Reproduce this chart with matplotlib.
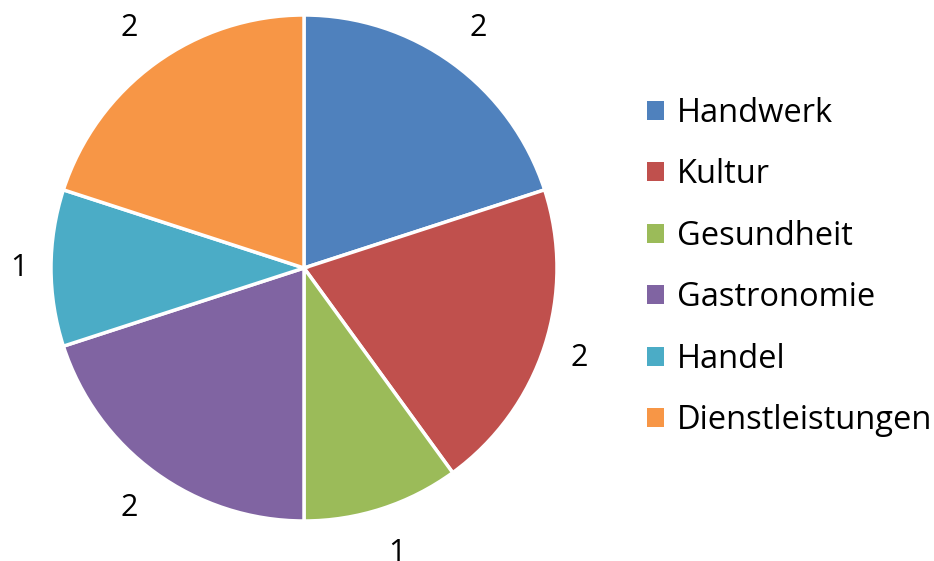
import numpy as np
import matplotlib.pyplot as plt
from matplotlib.patches import Patch

categories = ["Handwerk", "Kultur", "Gesundheit", "Gastronomie", "Handel", "Dienstleistungen"]
values = [2, 2, 1, 2, 1, 2]
colors = ["#4F81BD", "#C0504D", "#9BBB59", "#8064A2", "#4BACC6", "#F79646"]

plt.rcParams['font.family'] = ['Open Sans', 'DejaVu Sans']

fig = plt.figure(figsize=(9.34, 5.61), dpi=100)
# pie centre ~ (304, 268) px, radius ~ 253 px
cx, cy, r = 304, 268, 253
ax = fig.add_axes([(cx - r) / 934, (561 - cy - r) / 561, 2 * r / 934, 2 * r / 561])

wedges, _ = ax.pie(values, colors=colors, startangle=90, counterclock=False,
                   wedgeprops=dict(edgecolor="white", linewidth=2.5))

# data labels outside the wedges, roughly like Excel's "outside end"
total = sum(values)
cum = np.cumsum([0] + values)
for i, v in enumerate(values):
    mid = 90 - 360 * (cum[i] + v / 2) / total
    th = np.radians(mid)
    d = (285 + 15 * abs(np.sin(th))) / r
    ax.text(d * np.cos(th), d * np.sin(th), str(v), ha="center", va="center",
            fontsize=22)

ax.set_xlim(-1, 1)
ax.set_ylim(-1, 1)
ax.set_aspect("equal")

handles = [Patch(facecolor=c, edgecolor="none") for c in colors]
fig.legend(handles, categories, loc="center left", bbox_to_anchor=(0.6927, 0.524),
           frameon=False, fontsize=23.5, handlelength=0.52, handleheight=0.52,
           handletextpad=0.4, labelspacing=0.87, borderpad=0, borderaxespad=0)

fig.savefig("out.png", dpi=100)
